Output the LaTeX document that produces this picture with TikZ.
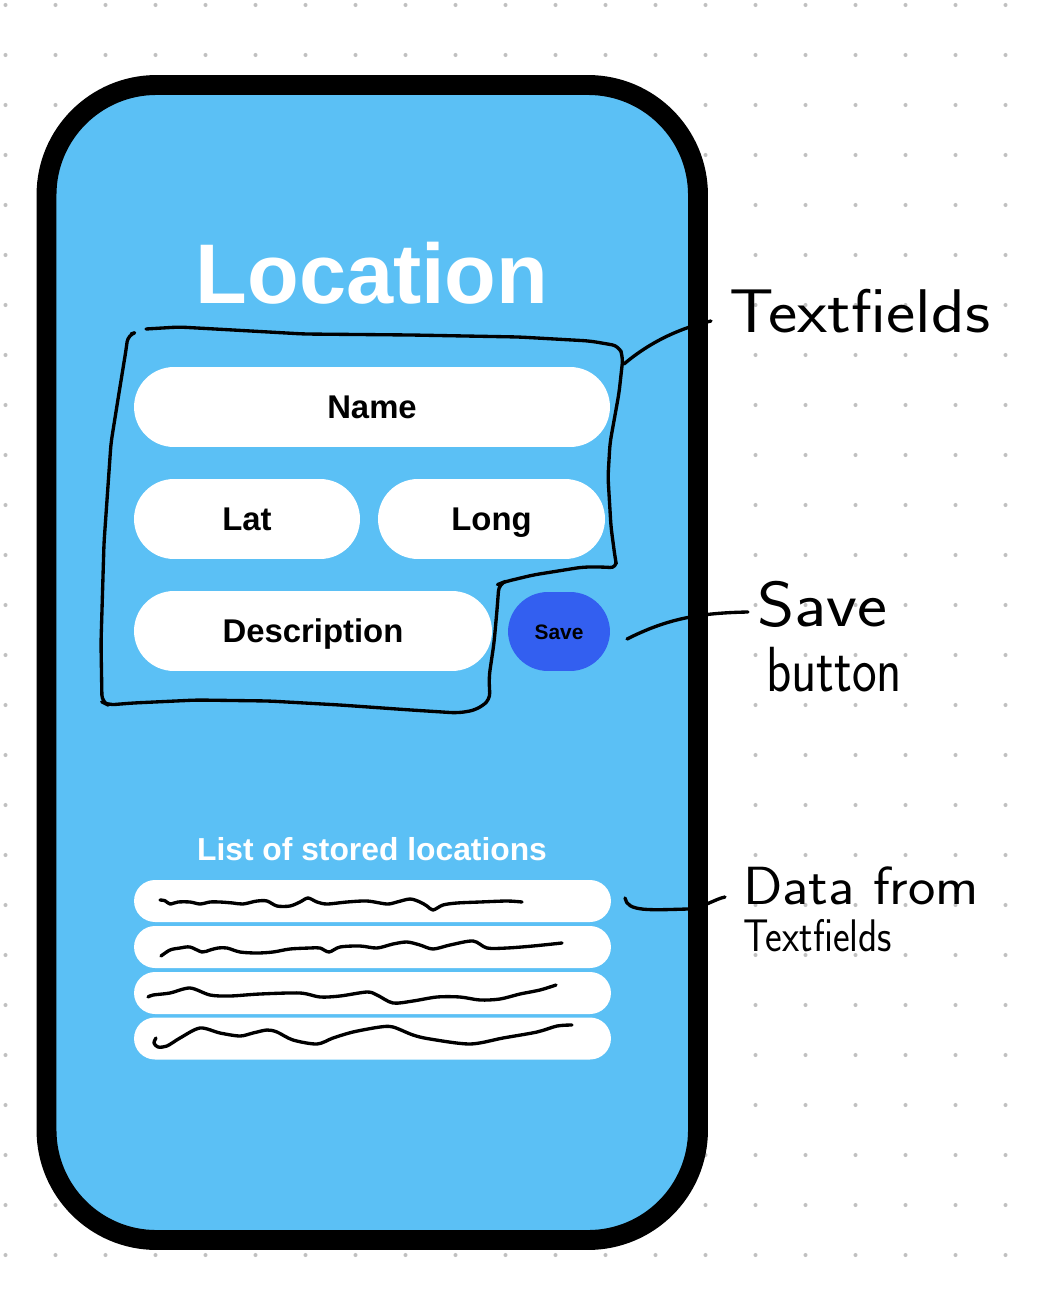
\documentclass[tikz,border=0pt]{standalone}
\usepackage{fontspec}
\usepackage{graphicx}
\newfontfamily\uifont{Liberation Sans}
\definecolor{phoneblue}{RGB}{91,192,245}
\definecolor{savebtn}{RGB}{51,95,240}
\definecolor{dotgray}{RGB}{192,192,192}
\begin{document}
\begin{tikzpicture}[x=0.02cm,y=-0.02cm,
  pill/.style={fill=white,rounded corners=0.8cm,inner sep=0pt,minimum height=1.6cm,
    text height=0.472cm,text depth=0pt,font=\uifont\bfseries\fontsize{18.7pt}{22pt}\selectfont},
  row/.style={fill=white,rounded corners=0.42cm,minimum width=9.54cm,minimum height=0.84cm,inner sep=0pt},
  ink/.style={line width=1.9pt,line cap=round,line join=round,black},
  hand/.style={inner sep=0pt,text=black}]
\useasboundingbox (0,0) rectangle (1054,1294);
% dot grid
\foreach \i in {0,...,20}{\foreach \j in {0,...,25}{\fill[dotgray] (5.5+50*\i,5+50*\j) circle (1.15pt);}}
% phone
\draw[line width=11.34pt,fill=phoneblue,rounded corners=2.2cm] (46.5,85) rectangle (698,1240);
% title
\node[font=\uifont\bfseries\fontsize{48.2pt}{50pt}\selectfont,text=white,anchor=base,inner sep=0pt] (title) at (372,303) {Location};
% text fields
\node[pill,minimum width=9.52cm] (name) at (372,407) {Name};
\node[pill,minimum width=4.52cm] (lat) at (247,519) {Lat};
\node[pill,minimum width=4.54cm] (long) at (491.5,519) {Long};
\node[pill,minimum width=7.16cm] (desc) at (313,631) {Description};
\node[pill,fill=savebtn,minimum width=2.04cm,minimum height=1.58cm,text height=0.3cm,
  font=\uifont\bfseries\fontsize{11.9pt}{14pt}\selectfont] (save) at (559,631.5) {Save};
% list
\node[font=\uifont\bfseries\fontsize{18.1pt}{20pt}\selectfont,text=white,anchor=base,inner sep=0pt] (listhdr) at (372,860) {List of stored locations};
\node[row] (r1) at (372.5,901) {};
\node[row] (r2) at (372.5,947) {};
\node[row] (r3) at (372.5,993) {};
\node[row] (r4) at (372.5,1038.5) {};
% scribbles
\draw[ink] plot[smooth] coordinates {(160,900) (165,900.7) (170,904) (178,902) (190,902) (200,904) (210,902) (220,902) (233,903) (243,904) (257,901) (267,901) (277,906) (290,906) (300,902) (308,898) (317,902) (327,904) (347,902) (367,901) (387,904) (397,902) (410,899) (420,902) (427,906) (433,910) (443,905) (457,903) (480,902) (507,901) (522,902)};
\draw[ink] plot[smooth] coordinates {(161,956) (170,950) (180,948) (190,947) (202,952) (210,950) (218,948) (227,948) (240,952) (257,953) (273,952) (290,949) (310,948) (320,948) (329,952) (340,947) (360,946) (377,948) (393,944) (407,942) (420,945) (433,949) (450,945) (473,941) (487,948) (507,948) (533,946) (562,943)};
\draw[ink] plot[smooth] coordinates {(148,997) (153,995) (170,993) (190,988) (210,995) (230,996) (260,994) (300,993) (320,997) (340,996) (367,992) (377,995) (393,1003) (413,1001) (437,997) (460,997) (480,1000) (500,999) (520,994) (540,990) (556,985)};
\draw[ink] plot[smooth] coordinates {(156,1038) (154,1043) (158,1047) (167,1046) (180,1038) (200,1028) (220,1033) (240,1036) (253,1033) (267,1030) (277,1032) (293,1040) (317,1044) (333,1038) (353,1032) (380,1027) (393,1027) (413,1035) (430,1039) (470,1044) (503,1038) (537,1032) (557,1026) (572,1025)};
% hand-drawn bracket around the text fields
\draw[ink,rounded corners=4pt] (146,329) -- (179,327) -- (233,330) -- (304,334) -- (411,335) -- (519,337) -- (590,341) -- (619,346) -- (623,357) -- (619,393) -- (610,443) -- (608,477) -- (611,527) -- (615,557) -- (617,568) -- (604,567) -- (583,567) -- (533,575) -- (504,582) -- (499,584) -- (497,610) -- (494,643) -- (489,677) -- (490,700) -- (476,710) -- (458,713) -- (411,710) -- (340,705) -- (269,701) -- (197,700) -- (133,703) -- (108,705) -- (102,702) -- (101,643) -- (104,543) -- (111,443) -- (119,393) -- (126,350) -- (128,335) -- (131,334);
% handwritten labels
\node[hand,anchor=base west,font=\sffamily\fontsize{35.1pt}{36pt}\selectfont] (tf) at (729,332) {\scalebox{1.13}[1]{Textfields}};
\node[hand,anchor=north west,align=left,font=\sffamily\fontsize{36.3pt}{36.8pt}\selectfont] (sb) at (757,581) {\scalebox{1.12}[1]{Save}\\\hspace*{5pt}\scalebox{0.82}[1]{button}};
\node[hand,anchor=north west,align=left,font=\sffamily\fontsize{30.6pt}{27pt}\selectfont] (df) at (743,866) {\scalebox{1.08}[1]{Data from}\\{\fontsize{26pt}{27pt}\selectfont\scalebox{0.87}[1]{Textfields}}};
% connectors
\coordinate (tfa) at (624,364);
\coordinate (tfb) at (711,321);
\draw[ink] (tfa) .. controls (650,342) and (680,328) .. (tfb);
\coordinate (sba) at (627,639);
\coordinate (sbb) at (748,612);
\draw[ink] (sba) .. controls (665,620) and (695,613) .. (sbb);
\coordinate (dfa) at (625,898);
\coordinate (dfm) at (688,909);
\coordinate (dfb) at (725,897);
\draw[ink] (dfa) .. controls (627,912) and (650,910) .. (dfm) .. controls (705,907) and (715,899) .. (dfb);
\end{tikzpicture}
\end{document}
